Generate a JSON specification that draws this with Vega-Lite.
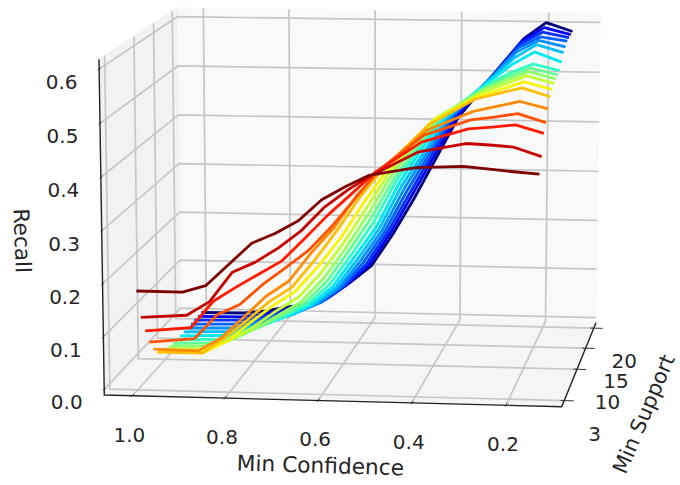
{"$schema":"https://vega.github.io/schema/vega-lite/v6.json","width":680,"height":485,"padding":0,"autosize":{"type":"none"},"background":"white","config":{"view":{"stroke":null}},
"data":{"values":[
{"kind":"back","seq":1,"conf":1.061,"support":21.4,"recall":-0.0107},{"kind":"back","seq":2,"conf":0.0824,"support":21.4,"recall":-0.0107},{"kind":"back","seq":3,"conf":0.0824,"support":21.4,"recall":0.618},{"kind":"back","seq":4,"conf":1.061,"support":21.4,"recall":0.618},
{"kind":"left","seq":1,"conf":1.061,"support":1.7,"recall":-0.0107},{"kind":"left","seq":2,"conf":1.061,"support":21.4,"recall":-0.0107},{"kind":"left","seq":3,"conf":1.061,"support":21.4,"recall":0.618},{"kind":"left","seq":4,"conf":1.061,"support":1.7,"recall":0.618},
{"kind":"floor","seq":1,"conf":1.061,"support":1.7,"recall":-0.0107},{"kind":"floor","seq":2,"conf":0.0824,"support":1.7,"recall":-0.0107},{"kind":"floor","seq":3,"conf":0.0824,"support":21.4,"recall":-0.0107},{"kind":"floor","seq":4,"conf":1.061,"support":21.4,"recall":-0.0107},
{"kind":"grid","group":"c1","seq":1,"conf":1.0,"support":1.7,"recall":-0.0107},{"kind":"grid","group":"c1","seq":2,"conf":1.0,"support":21.4,"recall":-0.0107},{"kind":"grid","group":"c1","seq":3,"conf":1.0,"support":21.4,"recall":0.618},
{"kind":"grid","group":"c8","seq":1,"conf":0.8,"support":1.7,"recall":-0.0107},{"kind":"grid","group":"c8","seq":2,"conf":0.8,"support":21.4,"recall":-0.0107},{"kind":"grid","group":"c8","seq":3,"conf":0.8,"support":21.4,"recall":0.618},
{"kind":"grid","group":"c6","seq":1,"conf":0.6,"support":1.7,"recall":-0.0107},{"kind":"grid","group":"c6","seq":2,"conf":0.6,"support":21.4,"recall":-0.0107},{"kind":"grid","group":"c6","seq":3,"conf":0.6,"support":21.4,"recall":0.618},
{"kind":"grid","group":"c4","seq":1,"conf":0.4,"support":1.7,"recall":-0.0107},{"kind":"grid","group":"c4","seq":2,"conf":0.4,"support":21.4,"recall":-0.0107},{"kind":"grid","group":"c4","seq":3,"conf":0.4,"support":21.4,"recall":0.618},
{"kind":"grid","group":"c2","seq":1,"conf":0.2,"support":1.7,"recall":-0.0107},{"kind":"grid","group":"c2","seq":2,"conf":0.2,"support":21.4,"recall":-0.0107},{"kind":"grid","group":"c2","seq":3,"conf":0.2,"support":21.4,"recall":0.618},
{"kind":"grid","group":"s3","seq":1,"conf":0.0824,"support":3,"recall":-0.0107},{"kind":"grid","group":"s3","seq":2,"conf":1.061,"support":3,"recall":-0.0107},{"kind":"grid","group":"s3","seq":3,"conf":1.061,"support":3,"recall":0.618},
{"kind":"grid","group":"s10","seq":1,"conf":0.0824,"support":10,"recall":-0.0107},{"kind":"grid","group":"s10","seq":2,"conf":1.061,"support":10,"recall":-0.0107},{"kind":"grid","group":"s10","seq":3,"conf":1.061,"support":10,"recall":0.618},
{"kind":"grid","group":"s15","seq":1,"conf":0.0824,"support":15,"recall":-0.0107},{"kind":"grid","group":"s15","seq":2,"conf":1.061,"support":15,"recall":-0.0107},{"kind":"grid","group":"s15","seq":3,"conf":1.061,"support":15,"recall":0.618},
{"kind":"grid","group":"s20","seq":1,"conf":0.0824,"support":20,"recall":-0.0107},{"kind":"grid","group":"s20","seq":2,"conf":1.061,"support":20,"recall":-0.0107},{"kind":"grid","group":"s20","seq":3,"conf":1.061,"support":20,"recall":0.618},
{"kind":"grid","group":"z0","seq":1,"conf":1.061,"support":1.7,"recall":0},{"kind":"grid","group":"z0","seq":2,"conf":1.061,"support":21.4,"recall":0},{"kind":"grid","group":"z0","seq":3,"conf":0.0824,"support":21.4,"recall":0},
{"kind":"grid","group":"z1","seq":1,"conf":1.061,"support":1.7,"recall":0.1},{"kind":"grid","group":"z1","seq":2,"conf":1.061,"support":21.4,"recall":0.1},{"kind":"grid","group":"z1","seq":3,"conf":0.0824,"support":21.4,"recall":0.1},
{"kind":"grid","group":"z2","seq":1,"conf":1.061,"support":1.7,"recall":0.2},{"kind":"grid","group":"z2","seq":2,"conf":1.061,"support":21.4,"recall":0.2},{"kind":"grid","group":"z2","seq":3,"conf":0.0824,"support":21.4,"recall":0.2},
{"kind":"grid","group":"z3","seq":1,"conf":1.061,"support":1.7,"recall":0.3},{"kind":"grid","group":"z3","seq":2,"conf":1.061,"support":21.4,"recall":0.3},{"kind":"grid","group":"z3","seq":3,"conf":0.0824,"support":21.4,"recall":0.3},
{"kind":"grid","group":"z4","seq":1,"conf":1.061,"support":1.7,"recall":0.4},{"kind":"grid","group":"z4","seq":2,"conf":1.061,"support":21.4,"recall":0.4},{"kind":"grid","group":"z4","seq":3,"conf":0.0824,"support":21.4,"recall":0.4},
{"kind":"grid","group":"z5","seq":1,"conf":1.061,"support":1.7,"recall":0.5},{"kind":"grid","group":"z5","seq":2,"conf":1.061,"support":21.4,"recall":0.5},{"kind":"grid","group":"z5","seq":3,"conf":0.0824,"support":21.4,"recall":0.5},
{"kind":"grid","group":"z6","seq":1,"conf":1.061,"support":1.7,"recall":0.6},{"kind":"grid","group":"z6","seq":2,"conf":1.061,"support":21.4,"recall":0.6},{"kind":"grid","group":"z6","seq":3,"conf":0.0824,"support":21.4,"recall":0.6},
{"kind":"axis","group":"ax","seq":1,"conf":1.061,"support":1.7,"recall":0.618},{"kind":"axis","group":"ax","seq":2,"conf":1.061,"support":1.7,"recall":-0.0107},{"kind":"axis","group":"ax","seq":3,"conf":0.0824,"support":1.7,"recall":-0.0107},{"kind":"axis","group":"ax","seq":4,"conf":0.0824,"support":21.4,"recall":-0.0107},
{"kind":"tick","group":"tc1","seq":1,"conf":1.0,"support":1.4,"recall":-0.0107},{"kind":"tick","group":"tc1","seq":2,"conf":1.0,"support":2.1,"recall":-0.0107},
{"kind":"tick","group":"tc8","seq":1,"conf":0.8,"support":1.4,"recall":-0.0107},{"kind":"tick","group":"tc8","seq":2,"conf":0.8,"support":2.1,"recall":-0.0107},
{"kind":"tick","group":"tc6","seq":1,"conf":0.6,"support":1.4,"recall":-0.0107},{"kind":"tick","group":"tc6","seq":2,"conf":0.6,"support":2.1,"recall":-0.0107},
{"kind":"tick","group":"tc4","seq":1,"conf":0.4,"support":1.4,"recall":-0.0107},{"kind":"tick","group":"tc4","seq":2,"conf":0.4,"support":2.1,"recall":-0.0107},
{"kind":"tick","group":"tc2","seq":1,"conf":0.2,"support":1.4,"recall":-0.0107},{"kind":"tick","group":"tc2","seq":2,"conf":0.2,"support":2.1,"recall":-0.0107},
{"kind":"tick","group":"ts3","seq":1,"conf":0.09,"support":3,"recall":-0.0107},{"kind":"tick","group":"ts3","seq":2,"conf":0.062,"support":3,"recall":-0.0107},
{"kind":"tick","group":"ts10","seq":1,"conf":0.09,"support":10,"recall":-0.0107},{"kind":"tick","group":"ts10","seq":2,"conf":0.062,"support":10,"recall":-0.0107},
{"kind":"tick","group":"ts15","seq":1,"conf":0.09,"support":15,"recall":-0.0107},{"kind":"tick","group":"ts15","seq":2,"conf":0.062,"support":15,"recall":-0.0107},
{"kind":"tick","group":"ts20","seq":1,"conf":0.09,"support":20,"recall":-0.0107},{"kind":"tick","group":"ts20","seq":2,"conf":0.062,"support":20,"recall":-0.0107},
{"kind":"tick","group":"tz0","seq":1,"conf":1.061,"support":2.0,"recall":0},{"kind":"tick","group":"tz0","seq":2,"conf":1.061,"support":1.4,"recall":0},
{"kind":"tick","group":"tz1","seq":1,"conf":1.061,"support":2.0,"recall":0.1},{"kind":"tick","group":"tz1","seq":2,"conf":1.061,"support":1.4,"recall":0.1},
{"kind":"tick","group":"tz2","seq":1,"conf":1.061,"support":2.0,"recall":0.2},{"kind":"tick","group":"tz2","seq":2,"conf":1.061,"support":1.4,"recall":0.2},
{"kind":"tick","group":"tz3","seq":1,"conf":1.061,"support":2.0,"recall":0.3},{"kind":"tick","group":"tz3","seq":2,"conf":1.061,"support":1.4,"recall":0.3},
{"kind":"tick","group":"tz4","seq":1,"conf":1.061,"support":2.0,"recall":0.4},{"kind":"tick","group":"tz4","seq":2,"conf":1.061,"support":1.4,"recall":0.4},
{"kind":"tick","group":"tz5","seq":1,"conf":1.061,"support":2.0,"recall":0.5},{"kind":"tick","group":"tz5","seq":2,"conf":1.061,"support":1.4,"recall":0.5},
{"kind":"tick","group":"tz6","seq":1,"conf":1.061,"support":2.0,"recall":0.6},{"kind":"tick","group":"tz6","seq":2,"conf":1.061,"support":1.4,"recall":0.6},
{"kind":"xlab","label":"1.0","conf":1.0,"support":1.7,"recall":-0.0107},{"kind":"xlab","label":"0.8","conf":0.8,"support":1.7,"recall":-0.0107},{"kind":"xlab","label":"0.6","conf":0.6,"support":1.7,"recall":-0.0107},{"kind":"xlab","label":"0.4","conf":0.4,"support":1.7,"recall":-0.0107},{"kind":"xlab","label":"0.2","conf":0.2,"support":1.7,"recall":-0.0107},
{"kind":"ylab","label":"3","conf":0.0824,"support":3,"recall":-0.0107},{"kind":"ylab","label":"10","conf":0.0824,"support":10,"recall":-0.0107},{"kind":"ylab","label":"15","conf":0.0824,"support":15,"recall":-0.0107},{"kind":"ylab","label":"20","conf":0.0824,"support":20,"recall":-0.0107},
{"kind":"zlab","label":"0.0","conf":1.061,"support":1.7,"recall":0},{"kind":"zlab","label":"0.1","conf":1.061,"support":1.7,"recall":0.1},{"kind":"zlab","label":"0.2","conf":1.061,"support":1.7,"recall":0.2},{"kind":"zlab","label":"0.3","conf":1.061,"support":1.7,"recall":0.3},{"kind":"zlab","label":"0.4","conf":1.061,"support":1.7,"recall":0.4},{"kind":"zlab","label":"0.5","conf":1.061,"support":1.7,"recall":0.5},{"kind":"zlab","label":"0.6","conf":1.061,"support":1.7,"recall":0.6},
{"kind":"xtitle","label":"Min Confidence","conf":0.6,"support":1.7,"recall":-0.0107},{"kind":"ytitle","label":"Min Support","conf":0.0824,"support":10.5,"recall":-0.0107},{"kind":"ztitle","label":"Recall","conf":1.061,"support":1.7,"recall":0.3},
{"kind":"curve","support":20,"conf":1,"recall":0.003},{"kind":"curve","support":20,"conf":0.9,"recall":0.004},{"kind":"curve","support":20,"conf":0.85,"recall":0.009},{"kind":"curve","support":20,"conf":0.8,"recall":0.018},{"kind":"curve","support":20,"conf":0.75,"recall":0.025},{"kind":"curve","support":20,"conf":0.7,"recall":0.04},{"kind":"curve","support":20,"conf":0.65,"recall":0.072},{"kind":"curve","support":20,"conf":0.6,"recall":0.107},{"kind":"curve","support":20,"conf":0.55,"recall":0.173},{"kind":"curve","support":20,"conf":0.5,"recall":0.248},{"kind":"curve","support":20,"conf":0.4,"recall":0.412},{"kind":"curve","support":20,"conf":0.3,"recall":0.521},{"kind":"curve","support":20,"conf":0.25,"recall":0.573},{"kind":"curve","support":20,"conf":0.2,"recall":0.605},{"kind":"curve","support":20,"conf":0.14,"recall":0.588},
{"kind":"curve","support":19,"conf":1,"recall":0.003},{"kind":"curve","support":19,"conf":0.9,"recall":0.004},{"kind":"curve","support":19,"conf":0.85,"recall":0.01},{"kind":"curve","support":19,"conf":0.8,"recall":0.02},{"kind":"curve","support":19,"conf":0.75,"recall":0.027},{"kind":"curve","support":19,"conf":0.7,"recall":0.044},{"kind":"curve","support":19,"conf":0.65,"recall":0.076},{"kind":"curve","support":19,"conf":0.6,"recall":0.116},{"kind":"curve","support":19,"conf":0.55,"recall":0.182},{"kind":"curve","support":19,"conf":0.5,"recall":0.26},{"kind":"curve","support":19,"conf":0.4,"recall":0.418},{"kind":"curve","support":19,"conf":0.3,"recall":0.52},{"kind":"curve","support":19,"conf":0.25,"recall":0.573},{"kind":"curve","support":19,"conf":0.2,"recall":0.6},{"kind":"curve","support":19,"conf":0.14,"recall":0.587},
{"kind":"curve","support":18,"conf":1,"recall":0.003},{"kind":"curve","support":18,"conf":0.9,"recall":0.005},{"kind":"curve","support":18,"conf":0.85,"recall":0.011},{"kind":"curve","support":18,"conf":0.8,"recall":0.022},{"kind":"curve","support":18,"conf":0.75,"recall":0.03},{"kind":"curve","support":18,"conf":0.7,"recall":0.048},{"kind":"curve","support":18,"conf":0.65,"recall":0.08},{"kind":"curve","support":18,"conf":0.6,"recall":0.125},{"kind":"curve","support":18,"conf":0.55,"recall":0.191},{"kind":"curve","support":18,"conf":0.5,"recall":0.27},{"kind":"curve","support":18,"conf":0.4,"recall":0.425},{"kind":"curve","support":18,"conf":0.3,"recall":0.52},{"kind":"curve","support":18,"conf":0.25,"recall":0.572},{"kind":"curve","support":18,"conf":0.2,"recall":0.596},{"kind":"curve","support":18,"conf":0.14,"recall":0.586},
{"kind":"curve","support":17,"conf":1,"recall":0.003},{"kind":"curve","support":17,"conf":0.9,"recall":0.005},{"kind":"curve","support":17,"conf":0.85,"recall":0.013},{"kind":"curve","support":17,"conf":0.8,"recall":0.024},{"kind":"curve","support":17,"conf":0.75,"recall":0.034},{"kind":"curve","support":17,"conf":0.7,"recall":0.052},{"kind":"curve","support":17,"conf":0.65,"recall":0.085},{"kind":"curve","support":17,"conf":0.6,"recall":0.136},{"kind":"curve","support":17,"conf":0.55,"recall":0.2},{"kind":"curve","support":17,"conf":0.5,"recall":0.282},{"kind":"curve","support":17,"conf":0.4,"recall":0.43},{"kind":"curve","support":17,"conf":0.3,"recall":0.52},{"kind":"curve","support":17,"conf":0.25,"recall":0.57},{"kind":"curve","support":17,"conf":0.2,"recall":0.592},{"kind":"curve","support":17,"conf":0.14,"recall":0.584},
{"kind":"curve","support":16,"conf":1,"recall":0.003},{"kind":"curve","support":16,"conf":0.9,"recall":0.005},{"kind":"curve","support":16,"conf":0.85,"recall":0.014},{"kind":"curve","support":16,"conf":0.8,"recall":0.026},{"kind":"curve","support":16,"conf":0.75,"recall":0.038},{"kind":"curve","support":16,"conf":0.7,"recall":0.058},{"kind":"curve","support":16,"conf":0.65,"recall":0.091},{"kind":"curve","support":16,"conf":0.6,"recall":0.147},{"kind":"curve","support":16,"conf":0.55,"recall":0.21},{"kind":"curve","support":16,"conf":0.5,"recall":0.294},{"kind":"curve","support":16,"conf":0.4,"recall":0.435},{"kind":"curve","support":16,"conf":0.3,"recall":0.52},{"kind":"curve","support":16,"conf":0.25,"recall":0.566},{"kind":"curve","support":16,"conf":0.2,"recall":0.59},{"kind":"curve","support":16,"conf":0.14,"recall":0.578},
{"kind":"curve","support":15,"conf":1,"recall":0.003},{"kind":"curve","support":15,"conf":0.9,"recall":0.006},{"kind":"curve","support":15,"conf":0.85,"recall":0.016},{"kind":"curve","support":15,"conf":0.8,"recall":0.028},{"kind":"curve","support":15,"conf":0.75,"recall":0.043},{"kind":"curve","support":15,"conf":0.7,"recall":0.065},{"kind":"curve","support":15,"conf":0.65,"recall":0.1},{"kind":"curve","support":15,"conf":0.6,"recall":0.158},{"kind":"curve","support":15,"conf":0.55,"recall":0.221},{"kind":"curve","support":15,"conf":0.5,"recall":0.306},{"kind":"curve","support":15,"conf":0.4,"recall":0.44},{"kind":"curve","support":15,"conf":0.3,"recall":0.52},{"kind":"curve","support":15,"conf":0.25,"recall":0.56},{"kind":"curve","support":15,"conf":0.2,"recall":0.587},{"kind":"curve","support":15,"conf":0.14,"recall":0.572},
{"kind":"curve","support":14,"conf":1,"recall":0.003},{"kind":"curve","support":14,"conf":0.9,"recall":0.006},{"kind":"curve","support":14,"conf":0.85,"recall":0.018},{"kind":"curve","support":14,"conf":0.8,"recall":0.032},{"kind":"curve","support":14,"conf":0.75,"recall":0.05},{"kind":"curve","support":14,"conf":0.7,"recall":0.072},{"kind":"curve","support":14,"conf":0.65,"recall":0.11},{"kind":"curve","support":14,"conf":0.6,"recall":0.17},{"kind":"curve","support":14,"conf":0.55,"recall":0.232},{"kind":"curve","support":14,"conf":0.5,"recall":0.318},{"kind":"curve","support":14,"conf":0.4,"recall":0.45},{"kind":"curve","support":14,"conf":0.3,"recall":0.519},{"kind":"curve","support":14,"conf":0.25,"recall":0.553},{"kind":"curve","support":14,"conf":0.2,"recall":0.578},{"kind":"curve","support":14,"conf":0.14,"recall":0.559},
{"kind":"curve","support":13,"conf":1,"recall":0.003},{"kind":"curve","support":13,"conf":0.9,"recall":0.007},{"kind":"curve","support":13,"conf":0.85,"recall":0.02},{"kind":"curve","support":13,"conf":0.8,"recall":0.037},{"kind":"curve","support":13,"conf":0.75,"recall":0.058},{"kind":"curve","support":13,"conf":0.7,"recall":0.081},{"kind":"curve","support":13,"conf":0.65,"recall":0.122},{"kind":"curve","support":13,"conf":0.6,"recall":0.183},{"kind":"curve","support":13,"conf":0.55,"recall":0.248},{"kind":"curve","support":13,"conf":0.5,"recall":0.33},{"kind":"curve","support":13,"conf":0.4,"recall":0.455},{"kind":"curve","support":13,"conf":0.3,"recall":0.518},{"kind":"curve","support":13,"conf":0.25,"recall":0.542},{"kind":"curve","support":13,"conf":0.2,"recall":0.56},{"kind":"curve","support":13,"conf":0.14,"recall":0.548},
{"kind":"curve","support":12,"conf":1,"recall":0.004},{"kind":"curve","support":12,"conf":0.9,"recall":0.008},{"kind":"curve","support":12,"conf":0.85,"recall":0.024},{"kind":"curve","support":12,"conf":0.8,"recall":0.042},{"kind":"curve","support":12,"conf":0.75,"recall":0.066},{"kind":"curve","support":12,"conf":0.7,"recall":0.091},{"kind":"curve","support":12,"conf":0.65,"recall":0.135},{"kind":"curve","support":12,"conf":0.6,"recall":0.197},{"kind":"curve","support":12,"conf":0.55,"recall":0.262},{"kind":"curve","support":12,"conf":0.5,"recall":0.34},{"kind":"curve","support":12,"conf":0.4,"recall":0.46},{"kind":"curve","support":12,"conf":0.3,"recall":0.518},{"kind":"curve","support":12,"conf":0.25,"recall":0.54},{"kind":"curve","support":12,"conf":0.2,"recall":0.558},{"kind":"curve","support":12,"conf":0.14,"recall":0.545},
{"kind":"curve","support":11,"conf":1,"recall":0.006},{"kind":"curve","support":11,"conf":0.9,"recall":0.01},{"kind":"curve","support":11,"conf":0.85,"recall":0.026},{"kind":"curve","support":11,"conf":0.8,"recall":0.048},{"kind":"curve","support":11,"conf":0.75,"recall":0.075},{"kind":"curve","support":11,"conf":0.7,"recall":0.102},{"kind":"curve","support":11,"conf":0.65,"recall":0.149},{"kind":"curve","support":11,"conf":0.6,"recall":0.21},{"kind":"curve","support":11,"conf":0.55,"recall":0.277},{"kind":"curve","support":11,"conf":0.5,"recall":0.352},{"kind":"curve","support":11,"conf":0.4,"recall":0.465},{"kind":"curve","support":11,"conf":0.3,"recall":0.519},{"kind":"curve","support":11,"conf":0.25,"recall":0.538},{"kind":"curve","support":11,"conf":0.2,"recall":0.556},{"kind":"curve","support":11,"conf":0.14,"recall":0.543},
{"kind":"curve","support":10,"conf":1,"recall":0.0095},{"kind":"curve","support":10,"conf":0.9,"recall":0.012},{"kind":"curve","support":10,"conf":0.85,"recall":0.032},{"kind":"curve","support":10,"conf":0.8,"recall":0.058},{"kind":"curve","support":10,"conf":0.75,"recall":0.09},{"kind":"curve","support":10,"conf":0.7,"recall":0.118},{"kind":"curve","support":10,"conf":0.65,"recall":0.166},{"kind":"curve","support":10,"conf":0.6,"recall":0.225},{"kind":"curve","support":10,"conf":0.55,"recall":0.293},{"kind":"curve","support":10,"conf":0.5,"recall":0.362},{"kind":"curve","support":10,"conf":0.4,"recall":0.468},{"kind":"curve","support":10,"conf":0.3,"recall":0.519},{"kind":"curve","support":10,"conf":0.25,"recall":0.536},{"kind":"curve","support":10,"conf":0.2,"recall":0.5535},{"kind":"curve","support":10,"conf":0.14,"recall":0.54},
{"kind":"curve","support":9,"conf":1,"recall":0.014},{"kind":"curve","support":9,"conf":0.9,"recall":0.015},{"kind":"curve","support":9,"conf":0.85,"recall":0.038},{"kind":"curve","support":9,"conf":0.8,"recall":0.0745},{"kind":"curve","support":9,"conf":0.75,"recall":0.108},{"kind":"curve","support":9,"conf":0.7,"recall":0.137},{"kind":"curve","support":9,"conf":0.65,"recall":0.1855},{"kind":"curve","support":9,"conf":0.6,"recall":0.242},{"kind":"curve","support":9,"conf":0.55,"recall":0.31},{"kind":"curve","support":9,"conf":0.5,"recall":0.372},{"kind":"curve","support":9,"conf":0.4,"recall":0.47},{"kind":"curve","support":9,"conf":0.3,"recall":0.518},{"kind":"curve","support":9,"conf":0.25,"recall":0.533},{"kind":"curve","support":9,"conf":0.2,"recall":0.5475},{"kind":"curve","support":9,"conf":0.14,"recall":0.534},
{"kind":"curve","support":8,"conf":1,"recall":0.02},{"kind":"curve","support":8,"conf":0.9,"recall":0.02},{"kind":"curve","support":8,"conf":0.85,"recall":0.0505},{"kind":"curve","support":8,"conf":0.8,"recall":0.0865},{"kind":"curve","support":8,"conf":0.75,"recall":0.124},{"kind":"curve","support":8,"conf":0.7,"recall":0.153},{"kind":"curve","support":8,"conf":0.65,"recall":0.206},{"kind":"curve","support":8,"conf":0.6,"recall":0.265},{"kind":"curve","support":8,"conf":0.55,"recall":0.33},{"kind":"curve","support":8,"conf":0.5,"recall":0.384},{"kind":"curve","support":8,"conf":0.4,"recall":0.47},{"kind":"curve","support":8,"conf":0.3,"recall":0.52},{"kind":"curve","support":8,"conf":0.25,"recall":0.531},{"kind":"curve","support":8,"conf":0.2,"recall":0.542},{"kind":"curve","support":8,"conf":0.14,"recall":0.526},
{"kind":"curve","support":7,"conf":1,"recall":0.034},{"kind":"curve","support":7,"conf":0.9,"recall":0.033},{"kind":"curve","support":7,"conf":0.85,"recall":0.059},{"kind":"curve","support":7,"conf":0.8,"recall":0.1},{"kind":"curve","support":7,"conf":0.75,"recall":0.142},{"kind":"curve","support":7,"conf":0.7,"recall":0.172},{"kind":"curve","support":7,"conf":0.65,"recall":0.228},{"kind":"curve","support":7,"conf":0.6,"recall":0.277},{"kind":"curve","support":7,"conf":0.55,"recall":0.34},{"kind":"curve","support":7,"conf":0.5,"recall":0.388},{"kind":"curve","support":7,"conf":0.4,"recall":0.465},{"kind":"curve","support":7,"conf":0.3,"recall":0.502},{"kind":"curve","support":7,"conf":0.25,"recall":0.512},{"kind":"curve","support":7,"conf":0.2,"recall":0.522},{"kind":"curve","support":7,"conf":0.14,"recall":0.509},
{"kind":"curve","support":6,"conf":1,"recall":0.056},{"kind":"curve","support":6,"conf":0.9,"recall":0.065},{"kind":"curve","support":6,"conf":0.85,"recall":0.112},{"kind":"curve","support":6,"conf":0.8,"recall":0.133},{"kind":"curve","support":6,"conf":0.75,"recall":0.172},{"kind":"curve","support":6,"conf":0.7,"recall":0.205},{"kind":"curve","support":6,"conf":0.65,"recall":0.239},{"kind":"curve","support":6,"conf":0.6,"recall":0.285},{"kind":"curve","support":6,"conf":0.55,"recall":0.338},{"kind":"curve","support":6,"conf":0.5,"recall":0.392},{"kind":"curve","support":6,"conf":0.4,"recall":0.462},{"kind":"curve","support":6,"conf":0.3,"recall":0.492},{"kind":"curve","support":6,"conf":0.25,"recall":0.498},{"kind":"curve","support":6,"conf":0.2,"recall":0.505},{"kind":"curve","support":6,"conf":0.14,"recall":0.489},
{"kind":"curve","support":5,"conf":1,"recall":0.086},{"kind":"curve","support":5,"conf":0.9,"recall":0.094},{"kind":"curve","support":5,"conf":0.85,"recall":0.146},{"kind":"curve","support":5,"conf":0.8,"recall":0.174},{"kind":"curve","support":5,"conf":0.75,"recall":0.2},{"kind":"curve","support":5,"conf":0.7,"recall":0.226},{"kind":"curve","support":5,"conf":0.65,"recall":0.27},{"kind":"curve","support":5,"conf":0.6,"recall":0.315},{"kind":"curve","support":5,"conf":0.55,"recall":0.355},{"kind":"curve","support":5,"conf":0.5,"recall":0.396},{"kind":"curve","support":5,"conf":0.4,"recall":0.455},{"kind":"curve","support":5,"conf":0.3,"recall":0.481},{"kind":"curve","support":5,"conf":0.25,"recall":0.485},{"kind":"curve","support":5,"conf":0.2,"recall":0.49},{"kind":"curve","support":5,"conf":0.14,"recall":0.475},
{"kind":"curve","support":4,"conf":1,"recall":0.12},{"kind":"curve","support":4,"conf":0.9,"recall":0.126},{"kind":"curve","support":4,"conf":0.85,"recall":0.153},{"kind":"curve","support":4,"conf":0.8,"recall":0.21},{"kind":"curve","support":4,"conf":0.75,"recall":0.23},{"kind":"curve","support":4,"conf":0.7,"recall":0.258},{"kind":"curve","support":4,"conf":0.65,"recall":0.292},{"kind":"curve","support":4,"conf":0.6,"recall":0.337},{"kind":"curve","support":4,"conf":0.55,"recall":0.37},{"kind":"curve","support":4,"conf":0.5,"recall":0.398},{"kind":"curve","support":4,"conf":0.4,"recall":0.443},{"kind":"curve","support":4,"conf":0.3,"recall":0.46},{"kind":"curve","support":4,"conf":0.25,"recall":0.458},{"kind":"curve","support":4,"conf":0.2,"recall":0.455},{"kind":"curve","support":4,"conf":0.14,"recall":0.438},
{"kind":"curve","support":3,"conf":1,"recall":0.178},{"kind":"curve","support":3,"conf":0.9,"recall":0.178},{"kind":"curve","support":3,"conf":0.85,"recall":0.191},{"kind":"curve","support":3,"conf":0.8,"recall":0.232},{"kind":"curve","support":3,"conf":0.75,"recall":0.273},{"kind":"curve","support":3,"conf":0.7,"recall":0.292},{"kind":"curve","support":3,"conf":0.65,"recall":0.317},{"kind":"curve","support":3,"conf":0.6,"recall":0.357},{"kind":"curve","support":3,"conf":0.55,"recall":0.382},{"kind":"curve","support":3,"conf":0.5,"recall":0.404},{"kind":"curve","support":3,"conf":0.4,"recall":0.42},{"kind":"curve","support":3,"conf":0.3,"recall":0.424},{"kind":"curve","support":3,"conf":0.25,"recall":0.42},{"kind":"curve","support":3,"conf":0.2,"recall":0.416},{"kind":"curve","support":3,"conf":0.14,"recall":0.412}
]},
"transform":[
{"calculate":"(1.061-datum.conf)/0.9786","as":"u"},
{"calculate":"(datum.support-1.7)/19.7","as":"v"},
{"calculate":"(datum.recall+0.0107)/0.6287","as":"w"},
{"calculate":"1-0.01459*datum.u+0.10258*datum.v-0.02*datum.w","as":"den"},
{"calculate":"(104.3+449.2*datum.u+94.94*datum.v-7.3*datum.w)/datum.den","as":"px"},
{"calculate":"(395+5.77*datum.u-49.67*datum.v-336.9*datum.w)/datum.den","as":"py"}
],
"encoding":{
"x":{"field":"px","type":"quantitative","scale":{"domain":[0,680],"nice":false,"zero":false},"axis":null},
"y":{"field":"py","type":"quantitative","scale":{"domain":[485,0],"nice":false,"zero":false},"axis":null}
},
"layer":[
{"transform":[{"filter":"datum.kind==='back'"}],"mark":{"type":"line","interpolate":"linear-closed","fill":"#f9f9f9","stroke":"#f9f9f9","strokeWidth":1},"encoding":{"order":{"field":"seq"}}},
{"transform":[{"filter":"datum.kind==='left'"}],"mark":{"type":"line","interpolate":"linear-closed","fill":"#f2f2f2","stroke":"#f2f2f2","strokeWidth":1},"encoding":{"order":{"field":"seq"}}},
{"transform":[{"filter":"datum.kind==='floor'"}],"mark":{"type":"line","interpolate":"linear-closed","fill":"#f5f5f5","stroke":"#f5f5f5","strokeWidth":1},"encoding":{"order":{"field":"seq"}}},
{"transform":[{"filter":"datum.kind==='grid'"}],"mark":{"type":"line","stroke":"#c6c6c6","strokeWidth":1.7},"encoding":{"detail":{"field":"group"},"order":{"field":"seq"}}},
{"transform":[{"filter":"datum.kind==='axis'"}],"mark":{"type":"line","stroke":"#222222","strokeWidth":1.4},"encoding":{"detail":{"field":"group"},"order":{"field":"seq"}}},
{"transform":[{"filter":"datum.kind==='tick'"}],"mark":{"type":"line","stroke":"#333333","strokeWidth":1},"encoding":{"detail":{"field":"group"},"order":{"field":"seq"}}},
{"transform":[{"filter":"datum.kind==='curve'"}],"mark":{"type":"line","strokeWidth":2.8,"strokeJoin":"round"},"encoding":{"stroke":{"field":"support","type":"ordinal","legend":null,"scale":{"domain":[3,4,5,6,7,8,9,10,11,12,13,14,15,16,17,18,19,20],"range":["#7f0000","#c40000","#ff1a00","#ff5200","#ff8a00","#ffbf00","#f8f500","#c4ff33","#93ff64","#64ff93","#33ffc4","#00eaf4","#00c0ff","#0090ff","#0060ff","#0030ff","#0000f0","#00007f"]}},"order":{"field":"conf","sort":"descending"}}},
{"transform":[{"filter":"datum.kind==='xlab'"}],"mark":{"type":"text","font":"DejaVu Sans","fontSize":20,"fill":"#262626","dx":-3,"dy":40,"align":"center","baseline":"middle"},"encoding":{"text":{"field":"label"}}},
{"transform":[{"filter":"datum.kind==='ylab'"}],"mark":{"type":"text","font":"DejaVu Sans","fontSize":20,"fill":"#262626","dx":30.5,"dy":34,"align":"center","baseline":"middle"},"encoding":{"text":{"field":"label"}}},
{"transform":[{"filter":"datum.kind==='zlab'"}],"mark":{"type":"text","font":"DejaVu Sans","fontSize":20,"fill":"#262626","dx":-37.5,"dy":14,"align":"center","baseline":"middle"},"encoding":{"text":{"field":"label"}}},
{"transform":[{"filter":"datum.kind==='xtitle'"}],"mark":{"type":"text","font":"DejaVu Sans","fontSize":21.7,"fill":"#262626","dx":4.2,"dy":65.3,"angle":1.7,"align":"center","baseline":"middle"},"encoding":{"text":{"field":"label"}}},
{"transform":[{"filter":"datum.kind==='ytitle'"}],"mark":{"type":"text","font":"DejaVu Sans","fontSize":21,"fill":"#262626","dx":-17.5,"dy":80.2,"angle":293,"align":"center","baseline":"middle"},"encoding":{"text":{"field":"label"}}},
{"transform":[{"filter":"datum.kind==='ztitle'"}],"mark":{"type":"text","font":"DejaVu Sans","fontSize":21.7,"fill":"#262626","dx":7.2,"dy":80.3,"angle":88,"align":"center","baseline":"middle"},"encoding":{"text":{"field":"label"}}}
]}
